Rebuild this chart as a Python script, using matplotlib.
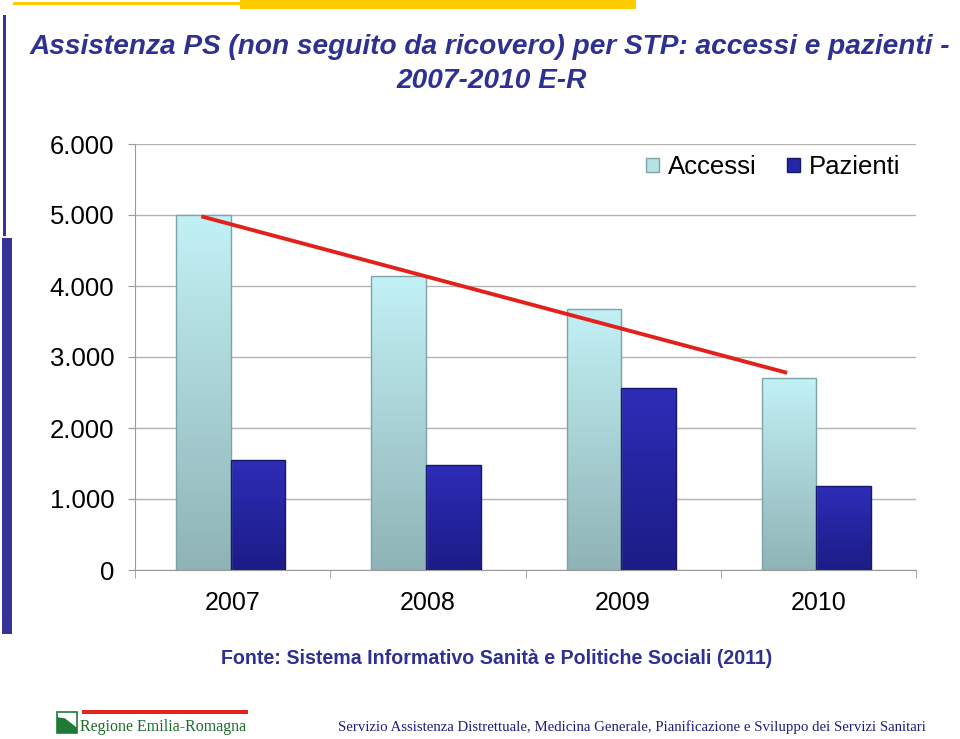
import numpy as np
import matplotlib
matplotlib.use("Agg")
import matplotlib.pyplot as plt
from matplotlib.patches import Rectangle, Polygon
from matplotlib.colors import LinearSegmentedColormap
from matplotlib.ticker import FuncFormatter

years = ["2007", "2008", "2009", "2010"]
accessi = [4995, 4140, 3680, 2700]
pazienti = [1550, 1480, 2560, 1180]
series_names = ["Accessi", "Pazienti"]
yticks = [0, 1000, 2000, 3000, 4000, 5000, 6000]

W, H = 960, 739
fig = plt.figure(figsize=(W / 100, H / 100), dpi=100)
fig.patch.set_facecolor("white")

def px(x0, y0, x1, y1):
    """pixel box -> figure fraction (left, bottom, width, height)"""
    return x0 / W, 1 - y1 / H, (x1 - x0) / W, (y1 - y0) / H

ax = fig.add_axes(px(135, 144, 916, 570))
x = np.arange(len(years))
bw = 0.28
acc_cmap = LinearSegmentedColormap.from_list("acc", ["#8fb3b6", "#c2f1f5"])
paz_cmap = LinearSegmentedColormap.from_list("paz", ["#1c1c86", "#2d2db8"])

xo = -0.01
b1 = ax.bar(x - bw / 2 + xo, accessi, bw, facecolor="none", edgecolor="#7ea3a6", lw=1, zorder=3)
b2 = ax.bar(x + bw / 2 + xo, pazienti, bw, facecolor="none", edgecolor="#17176c", lw=1, zorder=3)
grad = np.linspace(0, 1, 256).reshape(-1, 1)
for bars, cmap in ((b1, acc_cmap), (b2, paz_cmap)):
    for r in bars:
        x0, y0 = r.get_x(), r.get_y()
        w, h = r.get_width(), r.get_height()
        im = ax.imshow(grad, cmap=cmap, origin="lower", aspect="auto",
                       extent=(x0, x0 + w, y0, y0 + h), zorder=2)
        im.set_clip_path(r)

# trend line over Accessi
coef = np.polyfit(x, accessi, 1)
tx = x - bw / 2 - 0.02
ax.plot(tx, np.polyval(coef, x), color="#e3211c", lw=2.8, zorder=4,
        solid_capstyle="butt")

ax.set_xlim(-0.5, len(years) - 0.5)
ax.set_ylim(0, 6000)
ax.set_yticks(yticks)
ax.yaxis.set_major_formatter(FuncFormatter(lambda v, p: f"{int(v):,}".replace(",", ".")))
ax.set_xticks(x)
ax.set_xticklabels(years)
ax.set_xticks(np.arange(-0.5, len(years)), minor=True)
ax.tick_params(axis="x", which="major", length=0, pad=15, labelsize=18)
ax.tick_params(axis="x", which="minor", length=6, color="#9a9a9a", direction="out")
ax.tick_params(axis="y", length=5, color="#9a9a9a", labelsize=18.5, pad=10)
for lab in ax.get_xticklabels() + ax.get_yticklabels():
    lab.set_fontfamily("Liberation Sans")
ax.grid(axis="y", color="#b3b3b3", lw=1, zorder=0)
ax.set_axisbelow(True)
for s in ("top", "right"):
    ax.spines[s].set_visible(False)
for s in ("left", "bottom"):
    ax.spines[s].set_color("#9a9a9a")

leg_handles = [Rectangle((0, 0), 1, 1, facecolor="#b5e3e6", edgecolor="#7ea3a6"),
               Rectangle((0, 0), 1, 1, facecolor="#2626a8", edgecolor="#17176c")]
ax.legend(leg_handles, series_names, loc="upper right", bbox_to_anchor=(1.01, 1.028),
          frameon=False, ncol=2, handlelength=0.5, handleheight=0.5,
          handletextpad=0.35, columnspacing=1.2,
          prop={"family": "Liberation Sans", "size": 18.5})

# decorations
yellow = "#ffcc00"
blue = "#333399"
for box, col in (((13, 2, 240, 5), yellow), ((240, 0, 636, 9), yellow),
                 ((3, 15, 6, 236), blue), ((2, 238, 12, 634), blue)):
    b = px(*box)
    fig.add_artist(Rectangle(b[:2], *b[2:], transform=fig.transFigure, color=col, lw=0))

title_color = "#2e3192"
fig.text(490 / W, 1 - 47 / H,
         "Assistenza PS (non seguito da ricovero) per STP: accessi e pazienti -",
         ha="center", va="center", fontsize=20.2, fontweight="bold", style="italic",
         color=title_color, family="Liberation Sans")
fig.text(492 / W, 1 - 81 / H, "2007-2010 E-R",
         ha="center", va="center", fontsize=20.2, fontweight="bold", style="italic",
         color=title_color, family="Liberation Sans")

fig.text(497 / W, 1 - 658 / H,
         "Fonte: Sistema Informativo Sanità e Politiche Sociali (2011)",
         ha="center", va="center", fontsize=14.1, fontweight="bold",
         color=title_color, family="Liberation Sans")

# footer
fig.text(338 / W, 1 - 727 / H,
         "Servizio Assistenza Distrettuale, Medicina Generale, Pianificazione e Sviluppo dei Servizi Sanitari",
         ha="left", va="center", fontsize=10.7, color="#1f1f80",
         family="Liberation Serif")
fig.text(80 / W, 1 - 727 / H, "Regione Emilia-Romagna", ha="left", va="center",
         fontsize=11.5, color="#1f6b2a", family="Liberation Serif")
b = px(82, 710, 248, 714)
fig.add_artist(Rectangle(b[:2], *b[2:], transform=fig.transFigure, color="#e8231c", lw=0))
lx0, ly0, lw_, lh_ = px(57, 712, 77, 733)
fig.add_artist(Rectangle((lx0, ly0), lw_, lh_, transform=fig.transFigure,
                         facecolor="white", edgecolor="#1f7a35", lw=1.2))
fig.add_artist(Polygon([(lx0, ly0), (lx0 + lw_, ly0), (lx0 + lw_, ly0 + lh_ * 0.25),
                        (lx0 + lw_ * 0.4, ly0 + lh_ * 0.7), (lx0, ly0 + lh_ * 0.75)],
                       closed=True, transform=fig.transFigure,
                       facecolor="#1f7a35", lw=0))

fig.savefig("out.png", dpi=100, facecolor="white")
